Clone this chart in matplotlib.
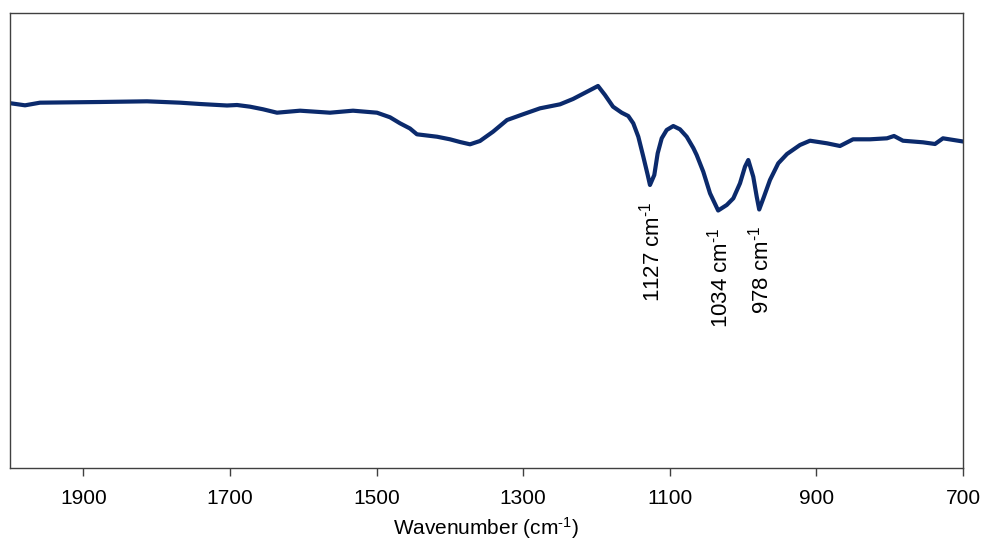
import matplotlib
matplotlib.use("Agg")
import matplotlib.pyplot as plt

plt.rcParams['font.family'] = ['Liberation Sans', 'DejaVu Sans']
plt.rcParams['mathtext.fontset'] = 'custom'
plt.rcParams['mathtext.rm'] = 'Liberation Sans'
plt.rcParams['mathtext.default'] = 'regular'

# FTIR spectrum: wavenumber (cm-1) and transmittance (%)
wavenumber = [1998.6, 1979.5, 1959.1, 1877.2, 1813.1, 1768.1, 1740.8, 1704.0,
              1690.3, 1672.6, 1654.9, 1635.8, 1604.4, 1563.5, 1532.1, 1499.4,
              1481.6, 1468.0, 1454.4, 1444.9, 1417.5, 1399.8, 1386.2, 1372.5,
              1358.9, 1341.1, 1322.0, 1300.2, 1277.0, 1249.7, 1232.0, 1212.9,
              1197.9, 1188.4, 1177.4, 1165.6, 1156.6, 1149.8, 1142.9, 1136.1,
              1130.1, 1127.0, 1121.1, 1116.5, 1111.0, 1104.2, 1095.2, 1086.1,
              1076.9, 1067.9, 1063.3, 1054.3, 1045.1, 1034.0, 1022.3, 1013.3,
              1004.2, 997.4, 992.9, 986.1, 981.4, 978.0, 971.5, 963.3,
              952.0, 940.1, 922.4, 908.7, 885.5, 867.8, 850.0, 826.9,
              803.7, 794.1, 781.9, 754.6, 738.2, 727.3, 700.0]
transmittance = [80.15, 79.71, 80.29, 80.44, 80.59, 80.29, 80.00, 79.67,
                 79.78, 79.41, 78.84, 78.09, 78.53, 78.09, 78.53, 78.09,
                 77.08, 75.76, 74.62, 73.34, 72.81, 72.24, 71.65, 71.14,
                 71.87, 73.91, 76.48, 77.74, 79.05, 79.93, 81.10, 82.70,
                 83.96, 81.98, 79.41, 78.09, 77.36, 75.76, 72.81, 68.42,
                 64.40, 62.20, 64.40, 69.16, 72.46, 74.29, 75.16, 74.44,
                 72.81, 70.33, 68.79, 65.12, 60.37, 56.59, 57.80, 59.27,
                 62.57, 66.22, 67.69, 64.02, 59.63, 56.81, 59.63, 63.30,
                 66.97, 69.01, 70.99, 71.93, 71.36, 70.77, 72.24, 72.24,
                 72.46, 72.97, 71.93, 71.58, 71.21, 72.46, 71.76]

# Labelled absorption bands
band_positions = [1127, 1034, 978]
band_labels = ["1127 cm$^{\u20101}$", "1034 cm$^{\u20101}$", "978 cm$^{\u20101}$"]

xticks = [1900, 1700, 1500, 1300, 1100, 900, 700]

fig = plt.figure(figsize=(9.87, 5.48), dpi=100)
ax = fig.add_axes([10 / 987, 1 - 468 / 548, 953 / 987, 455 / 548])

line_color = '#0b2a6c'
ax.plot(wavenumber, transmittance, color=line_color, lw=3.0,
        solid_joinstyle='round', solid_capstyle='round')

ax.set_xlim(2000, 700)
ax.set_ylim(0, 100)
ax.set_xticks(xticks)
ax.set_xticklabels([str(t) for t in xticks])
ax.set_yticks([])
ax.tick_params(axis='x', direction='out', length=6, width=1, colors='#404040',
               labelcolor='black', labelsize=15, pad=9)

for s in ax.spines.values():
    s.set_color('#404040')
    s.set_linewidth(1.0)

ax.set_xlabel("Wavenumber (cm$^{\u20101}$)", fontsize=15, labelpad=5)

lookup = dict(zip(wavenumber, transmittance))
for pos, lab in zip(band_positions, band_labels):
    ax.annotate(lab, xy=(pos, lookup[float(pos)]), xytext=(1, -12),
                textcoords='offset points', rotation=90, ha='center',
                va='top', fontsize=16)

fig.savefig("out.png", dpi=100)
